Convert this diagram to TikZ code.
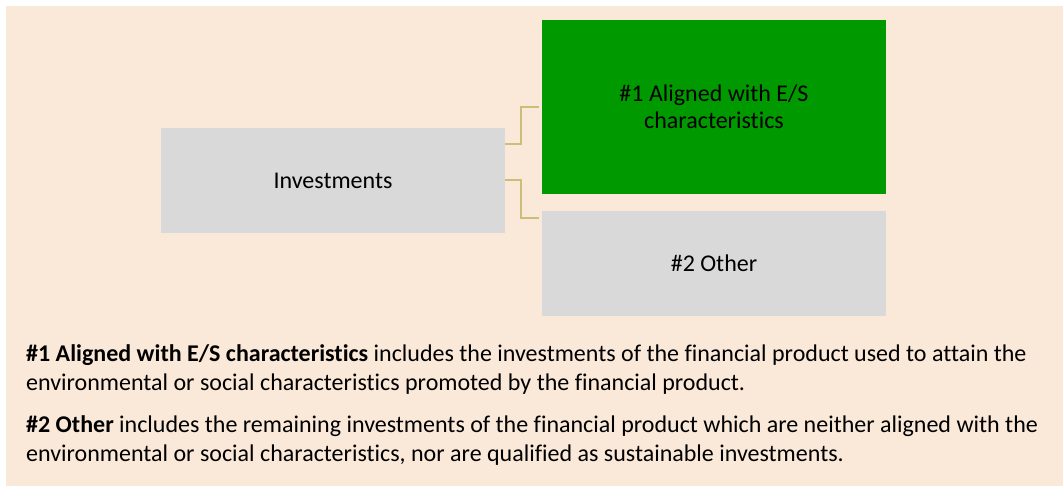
\documentclass[tikz,border=0pt]{standalone}
\usepackage{fontspec}
\setmainfont{Carlito}[Ligatures=NoCommon]
\definecolor{panelbg}{RGB}{250,232,216}
\definecolor{boxgrey}{RGB}{217,217,217}
\definecolor{boxgreen}{RGB}{0,153,0}
\definecolor{linkgold}{RGB}{204,190,118}
\tikzset{
  catbox/.style={fill=boxgrey,draw=none,minimum width=344pt,inner sep=0pt,
    align=center,font=\fontsize{24}{27}\selectfont},
  link/.style={draw=linkgold,line width=2pt},
  para/.style={anchor=base west,align=left,inner sep=0pt,
    font=\fontsize{24}{29.3}\selectfont}
}
\begin{document}
\begin{tikzpicture}[x=1pt,y=-1pt]
\useasboundingbox (0,0) rectangle (1063,486);
\fill[panelbg] (6,6) rectangle (1063,486);

\node[catbox,minimum height=105pt] (invest) at (333,180.5) {Investments};
\node[catbox,fill=boxgreen,minimum height=174pt] (aligned) at (714,107) {\#1 Aligned with E/S\\characteristics};
\node[catbox,minimum height=105pt] (other) at (714,263.5) {\#2 Other};

\draw[link] ([yshift=36.5pt]invest.east) -- ++(16,0) |- ([xshift=-3pt]aligned.west);
\draw[link] (invest.east) -- ++(16,0) |- ([xshift=-3pt,yshift=45.5pt]other.west);

% base anchor sits on the last line
\node[para] (note1) at (26,390.3) {\textbf{\#1 Aligned with E/S characteristics} includes the investments of the financial product used to attain the\\environmental or social characteristics promoted by the financial product.};
\node[para] (note2) at (26,461.8) {\textbf{\#2 Other} includes the remaining investments of the financial product which are neither aligned with the\\environmental or social characteristics, nor are qualified as sustainable investments.};
\end{tikzpicture}
\end{document}
